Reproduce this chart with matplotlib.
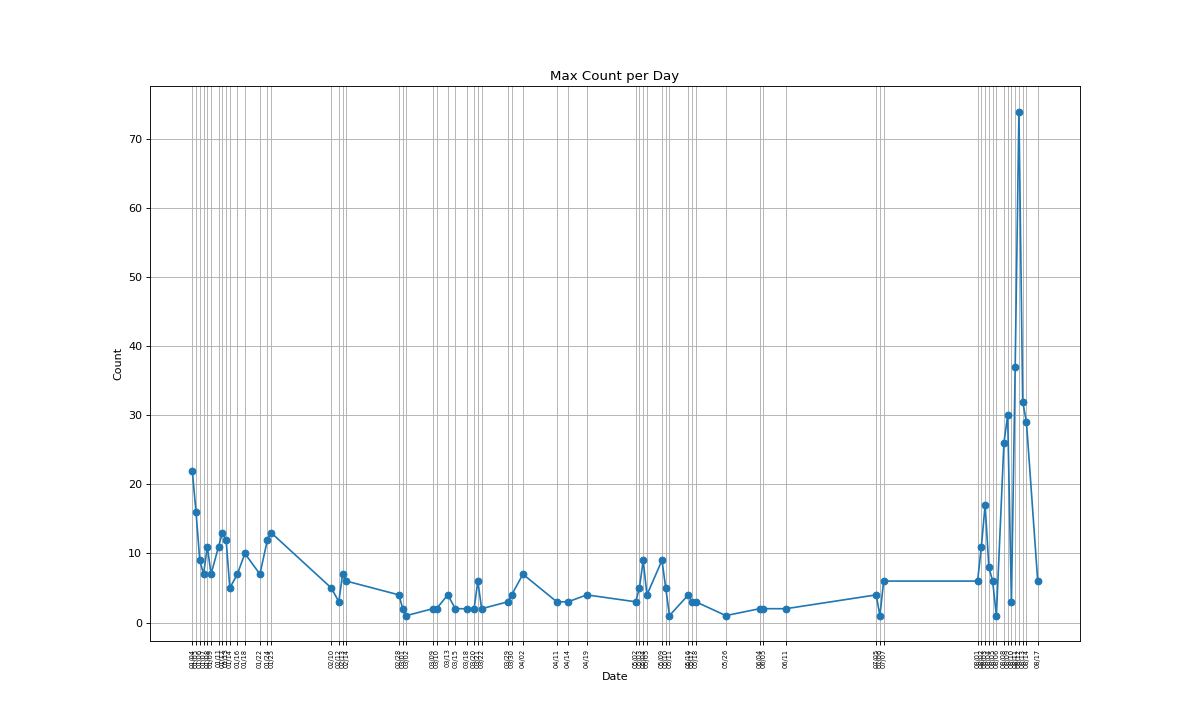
import matplotlib
matplotlib.use("Agg")
import matplotlib.pyplot as plt
import matplotlib.dates as mdates
import pandas as pd

days = ["01-04", "01-05", "01-06", "01-07", "01-08", "01-09", "01-11", "01-12", "01-13", "01-14",
        "01-16", "01-18", "01-22", "01-24", "01-25", "02-10", "02-12", "02-13", "02-14", "02-28",
        "03-01", "03-02", "03-09", "03-10", "03-13", "03-15", "03-18", "03-20", "03-21", "03-22",
        "03-29", "03-30", "04-02", "04-11", "04-14", "04-19", "05-02", "05-03", "05-04", "05-05",
        "05-09", "05-10", "05-11", "05-16", "05-17", "05-18", "05-26", "06-04", "06-05", "06-11",
        "07-05", "07-06", "07-07", "08-01", "08-02", "08-03", "08-04", "08-05", "08-06", "08-08",
        "08-09", "08-10", "08-11", "08-12", "08-13", "08-14", "08-17"]
counts = [22, 16, 9, 7, 11, 7, 11, 13, 12, 5,
          7, 10, 7, 12, 13, 5, 3, 7, 6, 4,
          2, 1, 2, 2, 4, 2, 2, 2, 6, 2,
          3, 4, 7, 3, 3, 4, 3, 5, 9, 4,
          9, 5, 1, 4, 3, 3, 1, 2, 2, 2,
          4, 1, 6, 6, 11, 17, 8, 6, 1, 26,
          30, 3, 37, 74, 32, 29, 6]

dates = pd.to_datetime(["2023-" + d for d in days])

fig, ax = plt.subplots(figsize=(15, 9), dpi=80)
ax.plot(dates, counts, marker="o")
ax.set_xticks(dates)
ax.xaxis.set_major_formatter(mdates.DateFormatter("%m/%d"))
plt.setp(ax.get_xticklabels(), rotation=90, fontsize=6)
ax.grid(True)
ax.set_title("Max Count per Day")
ax.set_xlabel("Date")
ax.set_ylabel("Count")
fig.savefig("out.png")
